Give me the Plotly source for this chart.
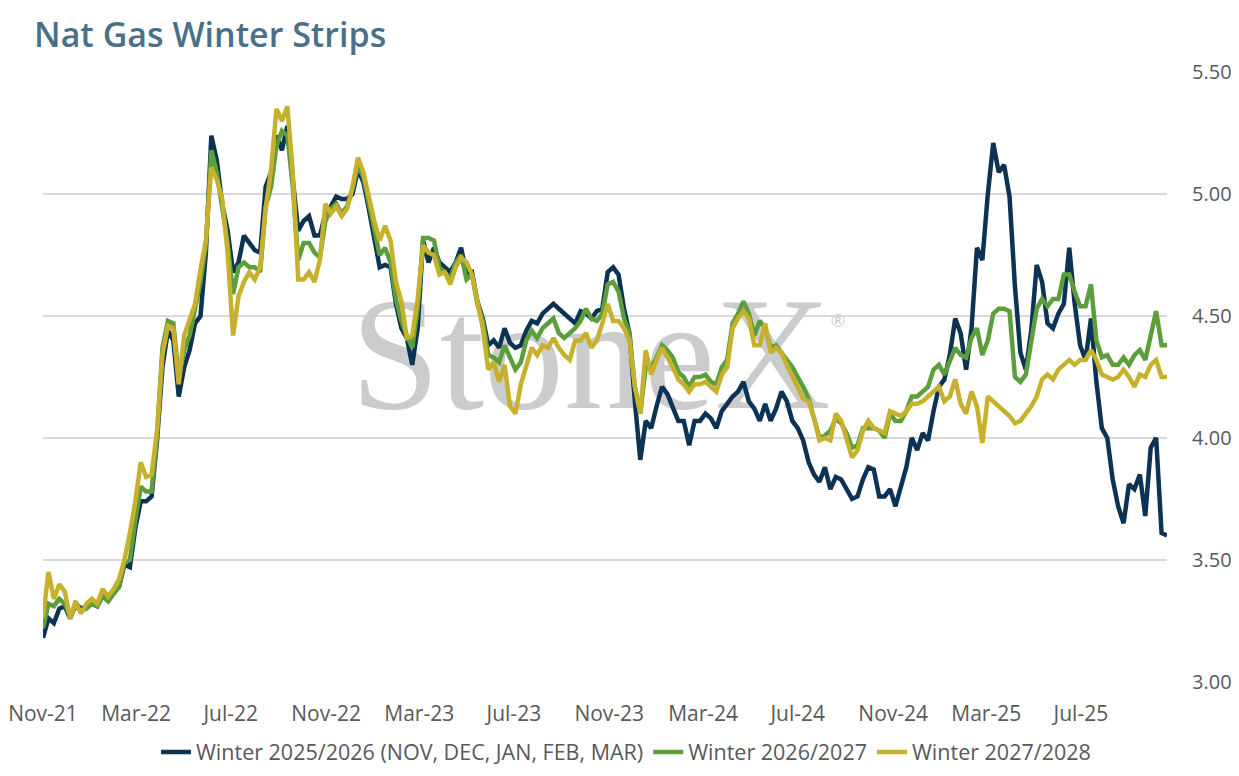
import pandas as pd
import plotly.graph_objects as go

# weekly readings of the three winter strips, $/MMBtu, starting 1 Nov 2021
WINTER_25_26 = [
    3.18, 3.26, 3.24, 3.30, 3.31, 3.26, 3.32, 3.30, 3.31, 3.32,
    3.31, 3.36, 3.34, 3.37, 3.39, 3.48, 3.47, 3.63, 3.74, 3.74,
    3.76, 3.99, 4.29, 4.44, 4.40, 4.17, 4.29, 4.36, 4.47, 4.50,
    4.76, 5.24, 5.14, 4.96, 4.85, 4.68, 4.72, 4.83, 4.80, 4.77,
    4.76, 5.03, 5.09, 5.24, 5.18, 5.28, 5.06, 4.85, 4.89, 4.91,
    4.83, 4.83, 4.92, 4.95, 4.99, 4.98, 4.98, 5.00, 5.10, 5.05,
    4.94, 4.81, 4.70, 4.71, 4.70, 4.55, 4.45, 4.41, 4.30, 4.45,
    4.81, 4.72, 4.78, 4.72, 4.70, 4.68, 4.72, 4.78, 4.67, 4.68,
    4.56, 4.49, 4.38, 4.40, 4.37, 4.45, 4.39, 4.37, 4.38, 4.44,
    4.48, 4.47, 4.51, 4.53, 4.55, 4.53, 4.51, 4.49, 4.47, 4.52,
    4.51, 4.49, 4.52, 4.53, 4.68, 4.70, 4.67, 4.53, 4.43, 4.15,
    3.91, 4.07, 4.04, 4.13, 4.21, 4.18, 4.13, 4.07, 4.07, 3.97,
    4.07, 4.07, 4.10, 4.08, 4.04, 4.11, 4.14, 4.17, 4.19, 4.23,
    4.15, 4.12, 4.07, 4.14, 4.07, 4.12, 4.19, 4.15, 4.07, 4.04,
    3.99, 3.90, 3.85, 3.82, 3.88, 3.79, 3.84, 3.83, 3.79, 3.75,
    3.76, 3.83, 3.88, 3.87, 3.76, 3.76, 3.79, 3.72, 3.80, 3.88,
    4.00, 3.95, 4.02, 3.99, 4.11, 4.21, 4.24, 4.34, 4.49, 4.43,
    4.28, 4.45, 4.78, 4.73, 5.00, 5.21, 5.09, 5.12, 4.99, 4.62,
    4.35, 4.28, 4.44, 4.71, 4.64, 4.47, 4.45, 4.51, 4.55, 4.78,
    4.55, 4.38, 4.32, 4.49, 4.23, 4.04, 4.00, 3.83, 3.72, 3.65,
    3.81, 3.79, 3.85, 3.68, 3.96, 4.00, 3.61, 3.60,
]
WINTER_26_27 = [
    3.22, 3.32, 3.31, 3.34, 3.32, 3.27, 3.31, 3.29, 3.30, 3.32,
    3.31, 3.35, 3.33, 3.36, 3.39, 3.49, 3.50, 3.66, 3.80, 3.78,
    3.78, 4.01, 4.37, 4.48, 4.47, 4.25, 4.36, 4.42, 4.52, 4.64,
    4.79, 5.18, 5.09, 4.95, 4.80, 4.59, 4.70, 4.72, 4.70, 4.70,
    4.68, 4.95, 5.03, 5.20, 5.26, 5.24, 5.03, 4.73, 4.80, 4.80,
    4.76, 4.74, 4.89, 4.94, 4.96, 4.92, 4.95, 5.02, 5.12, 5.07,
    4.96, 4.86, 4.75, 4.78, 4.72, 4.57, 4.48, 4.42, 4.37, 4.53,
    4.82, 4.82, 4.81, 4.70, 4.68, 4.65, 4.72, 4.75, 4.65, 4.67,
    4.55, 4.48, 4.34, 4.33, 4.31, 4.38, 4.33, 4.28, 4.31, 4.40,
    4.44, 4.41, 4.45, 4.47, 4.49, 4.43, 4.41, 4.43, 4.45, 4.48,
    4.53, 4.49, 4.48, 4.51, 4.63, 4.64, 4.60, 4.49, 4.43, 4.21,
    4.10, 4.29, 4.29, 4.33, 4.38, 4.36, 4.33, 4.27, 4.25, 4.21,
    4.25, 4.25, 4.26, 4.23, 4.22, 4.29, 4.32, 4.47, 4.51, 4.56,
    4.51, 4.42, 4.48, 4.45, 4.37, 4.38, 4.35, 4.32, 4.29, 4.25,
    4.21, 4.16, 4.08, 4.00, 4.01, 4.03, 4.08, 4.06, 4.02, 3.96,
    3.97, 4.04, 4.04, 4.04, 4.03, 4.00, 4.10, 4.07, 4.07, 4.11,
    4.17, 4.17, 4.19, 4.21, 4.28, 4.30, 4.26, 4.32, 4.37, 4.34,
    4.33, 4.41, 4.45, 4.34, 4.40, 4.51, 4.53, 4.53, 4.52, 4.25,
    4.23, 4.26, 4.40, 4.53, 4.57, 4.54, 4.57, 4.57, 4.67, 4.67,
    4.60, 4.54, 4.54, 4.63, 4.40, 4.33, 4.34, 4.30, 4.30, 4.33,
    4.30, 4.34, 4.36, 4.32, 4.42, 4.52, 4.38, 4.38,
]
WINTER_27_28 = [
    3.26, 3.45, 3.34, 3.40, 3.37, 3.26, 3.33, 3.28, 3.32, 3.34,
    3.32, 3.38, 3.35, 3.38, 3.42, 3.50, 3.61, 3.74, 3.90, 3.84,
    3.85, 4.03, 4.34, 4.46, 4.45, 4.22, 4.42, 4.49, 4.55, 4.69,
    4.81, 5.11, 5.06, 4.98, 4.76, 4.42, 4.58, 4.64, 4.68, 4.65,
    4.70, 4.94, 5.10, 5.35, 5.30, 5.36, 5.09, 4.65, 4.65, 4.68,
    4.64, 4.73, 4.96, 4.92, 4.95, 4.91, 4.94, 5.03, 5.15, 5.09,
    4.98, 4.89, 4.81, 4.87, 4.81, 4.64, 4.56, 4.41, 4.42, 4.57,
    4.79, 4.76, 4.75, 4.67, 4.68, 4.63, 4.70, 4.74, 4.72, 4.67,
    4.56, 4.45, 4.28, 4.31, 4.23, 4.30, 4.13, 4.10, 4.22, 4.30,
    4.37, 4.34, 4.38, 4.37, 4.41, 4.37, 4.34, 4.32, 4.40, 4.40,
    4.43, 4.37, 4.40, 4.47, 4.55, 4.48, 4.48, 4.45, 4.40, 4.21,
    4.10, 4.36, 4.26, 4.32, 4.37, 4.33, 4.29, 4.24, 4.22, 4.19,
    4.22, 4.22, 4.23, 4.21, 4.19, 4.26, 4.29, 4.45, 4.49, 4.52,
    4.49, 4.38, 4.38, 4.47, 4.35, 4.37, 4.35, 4.30, 4.25, 4.21,
    4.16, 4.15, 4.08, 3.99, 4.00, 3.99, 4.10, 4.07, 4.00, 3.92,
    3.95, 4.03, 4.07, 4.04, 4.03, 4.02, 4.11, 4.10, 4.09, 4.11,
    4.14, 4.14, 4.15, 4.17, 4.19, 4.21, 4.15, 4.17, 4.24, 4.14,
    4.10, 4.19, 4.13, 3.98, 4.17, 4.15, 4.13, 4.11, 4.09, 4.06,
    4.07, 4.10, 4.13, 4.17, 4.24, 4.26, 4.24, 4.28, 4.30, 4.32,
    4.30, 4.32, 4.32, 4.36, 4.32, 4.26, 4.25, 4.24, 4.25, 4.28,
    4.25, 4.21, 4.26, 4.25, 4.30, 4.32, 4.25, 4.25,
]
DATES = pd.date_range("2021-11-01", periods=len(WINTER_25_26), freq="7D")

SERIES = [
    ("Winter 2025/2026 (NOV, DEC, JAN, FEB, MAR)", WINTER_25_26, "#0c3254"),
    ("Winter 2026/2027", WINTER_26_27, "#5c9e3c"),
    ("Winter 2027/2028", WINTER_27_28, "#c7b12c"),
]

GREY_TEXT = "#595959"
W, H = 1239, 776
PAGE_PAD = 8  # browser body margin pushes the figure 8px right/down

fig = go.Figure()

# StoneX watermark, sits underneath the lines
fig.add_trace(go.Scatter(
    x=["2023-10-08"], y=[4.285], mode="text", text=["StoneX"],
    textfont=dict(family="Liberation Serif", size=160, color="#cbccce"),
    textposition="middle center", showlegend=False, hoverinfo="skip",
))
fig.add_trace(go.Scatter(
    x=["2024-08-22"], y=[4.475], mode="text", text=["®"],
    textfont=dict(family="DejaVu Sans", size=18, color="#cbccce"),
    textposition="middle center", showlegend=False, hoverinfo="skip",
))

for name, vals, colour in SERIES:
    fig.add_trace(go.Scatter(
        x=DATES, y=vals, name=name, mode="lines",
        line=dict(color=colour, width=4.5),
    ))

fig.update_layout(
    width=W, height=H,
    margin=dict(l=43 - PAGE_PAD, r=W - 1167 + PAGE_PAD,
                t=72 - PAGE_PAD, b=H - 682 + PAGE_PAD, autoexpand=False),
    paper_bgcolor="white", plot_bgcolor="white",
    font=dict(family="Open Sans", color=GREY_TEXT, size=19),
    title=dict(text="Nat Gas Winter Strips", xref="container",
               x=(34 - PAGE_PAD) / W, xanchor="left",
               yref="container", y=1 - (35 - PAGE_PAD) / H, yanchor="middle",
               font=dict(size=34, color="#4a7089", weight=600)),
    hovermode=False,
    legend=dict(orientation="h", xref="container", yref="container",
                x=(626 - PAGE_PAD) / W, xanchor="center",
                y=1 - (752 - PAGE_PAD) / H, yanchor="middle",
                font=dict(size=21.5, color=GREY_TEXT)),
    xaxis=dict(type="date", range=["2021-11-01", "2025-10-20"],
               tick0="2021-11-01", dtick="M4", tickformat="%b-%y",
               showgrid=False, zeroline=False, showline=False,
               automargin=False,
               ticks="outside", ticklen=13, tickcolor="rgba(0,0,0,0)",
               tickfont=dict(size=21, color=GREY_TEXT)),
    yaxis=dict(side="right", range=[2.999, 5.501], dtick=0.5, tick0=3,
               tickformat=".2f", showgrid=True, gridcolor="#d9d9d9",
               gridwidth=1.5, zeroline=False, showline=False,
               automargin=False,
               ticks="outside", ticklen=20, tickcolor="rgba(0,0,0,0)",
               tickfont=dict(size=20, color=GREY_TEXT)),
)

fig.write_html("out.html")
